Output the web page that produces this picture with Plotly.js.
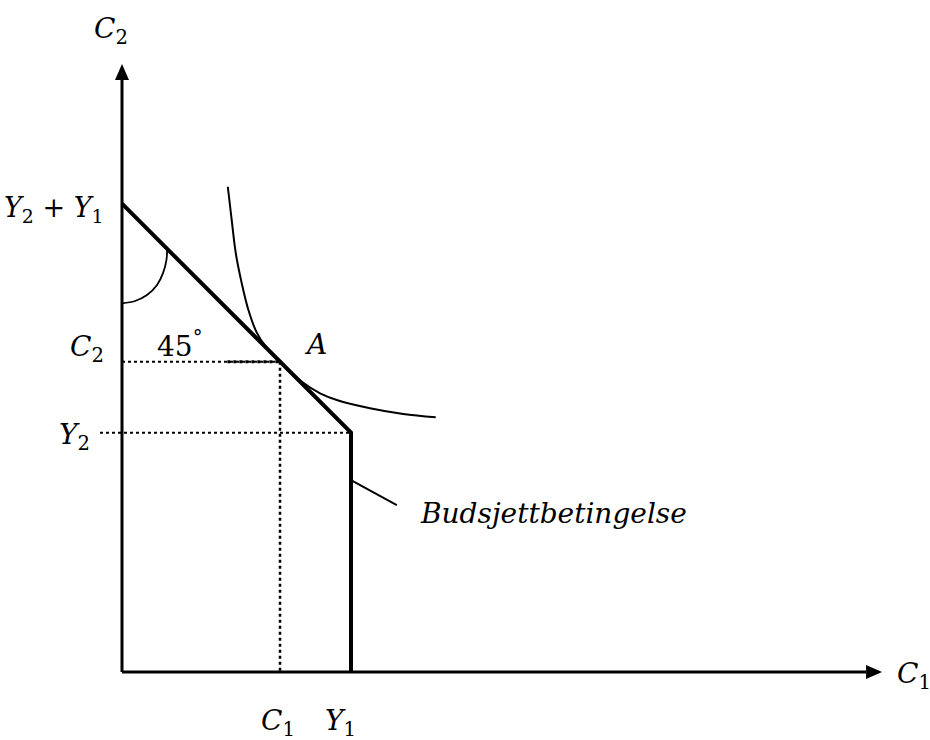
<!DOCTYPE html>
<html>
<head>
<meta charset="utf-8">
<script src="https://cdn.plot.ly/plotly-3.0.1.min.js"></script>
<style>html,body{margin:0;padding:0;background:#fff;}#chart{width:930px;height:740px;}</style>
</head>
<body>
<div id="chart"></div>
<script>
// ---- data (economic units) ----
const Y1 = 10;
const Y2 = 10.45;
const pointA = [6.9, 13.55];
const budgetC1 = [0, Y1, Y1];
const budgetC2 = [Y1 + Y2, Y2, 0];
const indiffC1 = [4.62, 4.79, 4.97, 5.23, 5.52, 5.88, 6.25, 6.76, 7.34, 7.90, 8.65, 9.38, 10.83, 12.28, 13.70];
const indiffC2 = [21.19, 19.74, 18.28, 16.97, 15.81, 14.83, 14.25, 13.72, 13.15, 12.64, 12.17, 11.88, 11.52, 11.27, 11.12];
const arcC1 = [0, 0.57, 1.09, 1.53, 1.79, 1.94, 1.97];
const arcC2 = [16.10, 16.20, 16.46, 16.90, 17.42, 17.99, 18.47];
const pointerC1 = [10, 12.0];
const pointerC2 = [8.38, 7.29];
const axisEndC1 = 33.19;
const axisEndC2 = 26.55;
const labelBudget = 'Budsjettbetingelse';

// ---- geometry of the page ----
const W = 930, H = 740, ox = 122, oy = 672, S = 22.9;
const px = p => p / S; // pixels -> units
const arrowLen = px(16), arrowHalf = px(7);

const blk = '#000';
const traces = [];
function line(x, y, width, dash) {
  traces.push({type: 'scatter', mode: 'lines', x: x, y: y, hoverinfo: 'skip', showlegend: false,
    line: {color: blk, width: width, dash: dash || 'solid'}});
}
// axes
line([0, axisEndC1 - arrowLen], [0, 0], 3);
line([0, 0], [0, axisEndC2 - arrowLen], 3);
// dotted guides
line([0, pointA[0]], [pointA[1], pointA[1]], 2, 'dot');
line([pointA[0] - 2.3, pointA[0]], [pointA[1], pointA[1]], 3, 'dot');
line([pointA[0], pointA[0]], [pointA[1], 0], 2.5, 'dot');
line([-px(22), Y1], [Y2, Y2], 2, 'dot');
// budget constraint
line(budgetC1, budgetC2, 4);
// indifference curve
traces.push({type: 'scatter', mode: 'lines', x: indiffC1, y: indiffC2, hoverinfo: 'skip', showlegend: false,
  line: {color: blk, width: 2, shape: 'spline', smoothing: 1}});
// angle arc
traces.push({type: 'scatter', mode: 'lines', x: arcC1, y: arcC2, hoverinfo: 'skip', showlegend: false,
  line: {color: blk, width: 1.8, shape: 'spline'}});
// pointer
line(pointerC1, pointerC2, 2);

const shapes = [
  {type: 'path', xref: 'x', yref: 'y', fillcolor: blk, line: {width: 0},
   path: `M ${axisEndC1},0 L ${axisEndC1 - arrowLen},${arrowHalf} L ${axisEndC1 - arrowLen},${-arrowHalf} Z`},
  {type: 'path', xref: 'x', yref: 'y', fillcolor: blk, line: {width: 0},
   path: `M 0,${axisEndC2} L ${arrowHalf},${axisEndC2 - arrowLen} L ${-arrowHalf},${axisEndC2 - arrowLen} Z`}
];

const fnt = {family: 'DejaVu Serif, serif', size: 28, color: blk};
function ann(pxX, pxY, text, size) {
  return {xref: 'x', yref: 'y', x: px(pxX - ox), y: px(oy - pxY), text: text, showarrow: false,
    xanchor: 'center', yanchor: 'middle', font: size ? Object.assign({}, fnt, {size: size}) : fnt};
}
const annotations = [
  ann(111, 30, '<i>C</i><sub>2</sub>'),
  ann(54, 209, '<i>Y</i><sub>2</sub> + <i>Y</i><sub>1</sub>', 27),
  ann(87, 348, '<i>C</i><sub>2</sub>'),
  ann(179, 344, '45<sup>°</sup>'),
  ann(315, 344, '<i>A</i>'),
  ann(74, 436, '<i>Y</i><sub>2</sub>'),
  ann(278, 722, '<i>C</i><sub>1</sub>'),
  ann(340, 722, '<i>Y</i><sub>1</sub>'),
  ann(914, 675, '<i>C</i><sub>1</sub>'),
  ann(553, 513, '<i>' + labelBudget + '</i>')
];

const layout = {
  width: W, height: H,
  margin: {l: 0, r: 0, t: 0, b: 0},
  paper_bgcolor: '#fff', plot_bgcolor: '#fff',
  xaxis: {visible: false, range: [-px(ox), px(W - ox)], fixedrange: true},
  yaxis: {visible: false, range: [-px(H - oy), px(oy)], fixedrange: true},
  shapes: shapes,
  annotations: annotations,
  showlegend: false
};
Plotly.newPlot('chart', traces, layout, {staticPlot: true, displayModeBar: false});
</script>
</body>
</html>
